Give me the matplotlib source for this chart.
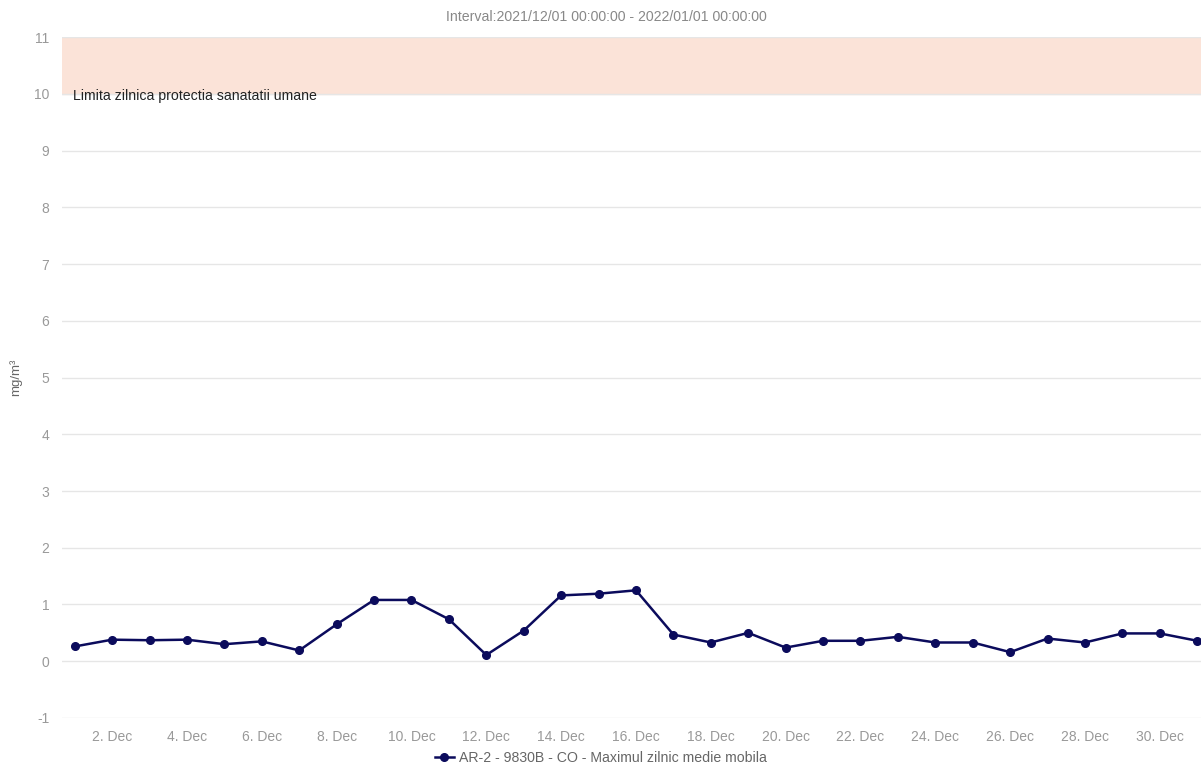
import matplotlib
matplotlib.use('Agg')
import matplotlib.pyplot as plt
from matplotlib.lines import Line2D

plt.rcParams['font.family'] = ['Liberation Sans', 'DejaVu Sans']
plt.rcParams['axes.unicode_minus'] = False

# daily max of the moving average, CO, December 2021
days = list(range(1, 32))
values = [0.26, 0.38, 0.37, 0.38, 0.30, 0.35, 0.19, 0.65, 1.08, 1.08,
          0.74, 0.11, 0.54, 1.16, 1.19, 1.25, 0.47, 0.33, 0.50, 0.24,
          0.36, 0.36, 0.43, 0.33, 0.33, 0.16, 0.40, 0.33, 0.49, 0.49, 0.36]
tick_days = list(range(2, 31, 2))
tick_labels = ['%d. Dec' % d for d in tick_days]
y_ticks = list(range(-1, 12))
limit_low, limit_high = 10, 11

series_name = 'AR-2 - 9830B - CO - Maximul zilnic medie mobila'
title = 'Interval:2021/12/01 00:00:00 - 2022/01/01 00:00:00'
band_label = 'Limita zilnica protectia sanatatii umane'

line_color = '#0b0b5c'

fig = plt.figure(figsize=(12.01, 7.73), dpi=100)
ax = fig.add_axes([0.0516, 0.0712, 0.9484, 0.8808])

ax.axhspan(limit_low, limit_high, color='#fbe3d8', zorder=0)
ax.text(0.95, limit_low - 0.03, band_label, fontsize=10.2, color='#222222',
        va='center', ha='left')

ax.plot(days, values, color=line_color, linewidth=1.8, marker='o',
        markersize=5.5, zorder=3)

ax.set_xlim(0.66, 31.1)
ax.set_ylim(-1, 11)
ax.set_yticks(y_ticks)
ax.set_xticks(tick_days)
ax.set_xticklabels(tick_labels)
ax.grid(axis='y', color='#e6e6e6', linewidth=1)
ax.set_axisbelow(True)
for s in ax.spines.values():
    s.set_visible(False)
ax.tick_params(axis='both', length=0, colors='#999999', labelsize=10)
ax.tick_params(axis='x', pad=9)
ax.tick_params(axis='y', pad=9)

ax.set_ylabel('mg/m³', fontsize=9.5, color='#666666')
ax.yaxis.set_label_coords(-0.035, 0.5)

fig.text(0.505, 0.978, title, ha='center', va='center', fontsize=10.2,
         color='#888888')

handle = Line2D([], [], color=line_color, linewidth=1.8, marker='o',
                markersize=5.5)
leg = fig.legend([handle], [series_name], loc='center',
                 bbox_to_anchor=(0.5, 0.019), frameon=False, fontsize=10.2,
                 handlelength=1.4, handletextpad=0.3)
for t in leg.get_texts():
    t.set_color('#666666')

fig.savefig('out.png', dpi=100)
